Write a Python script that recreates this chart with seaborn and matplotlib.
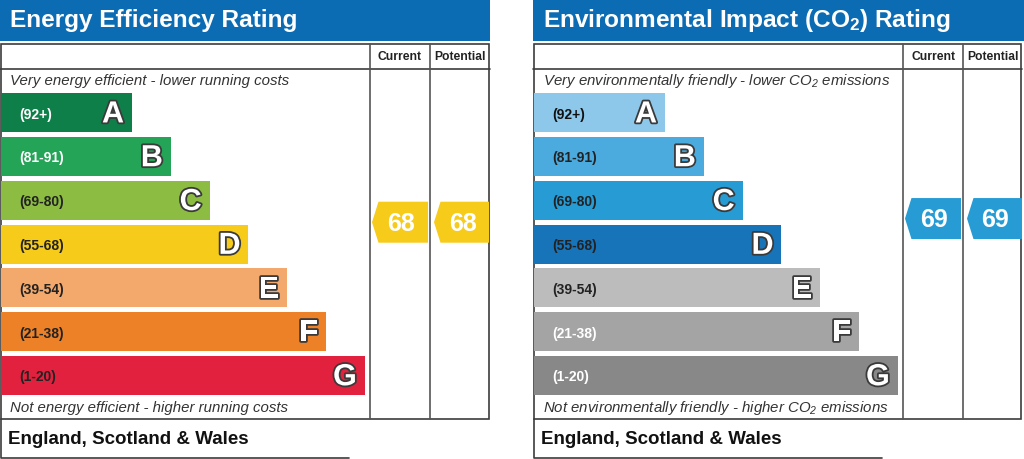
import matplotlib
matplotlib.use('Agg')
import matplotlib.pyplot as plt
import matplotlib.patheffects as pe
from matplotlib.patches import Polygon, Rectangle
import seaborn as sns

# rating bands shared by both charts
bands = ['A', 'B', 'C', 'D', 'E', 'F', 'G']
ranges = ['(92+)', '(81-91)', '(69-80)', '(55-68)', '(39-54)', '(21-38)', '(1-20)']
band_lo = [92, 81, 69, 55, 39, 21, 1]
band_hi = [100, 91, 80, 68, 54, 38, 20]

# energy efficiency chart
energy_title = 'Energy Efficiency Rating'
energy_top = 'Very energy efficient - lower running costs'
energy_bottom = 'Not energy efficient - higher running costs'
energy_colors = ['#0f7f4a', '#23a456', '#8cbd42', '#f6cb1a', '#f2a96b', '#ec8127', '#e2213e']
energy_range_colors = ['white', 'white', '#222222', '#222222', '#222222', '#222222', '#222222']
energy_current = 68
energy_potential = 68

# environmental impact chart
co2_title = r'Environmental Impact (CO$\mathregular{_2}$) Rating'
co2_top = r'Very environmentally friendly - lower CO$\mathregular{_2}$ emissions'
co2_bottom = r'Not environmentally friendly - higher CO$\mathregular{_2}$ emissions'
co2_colors = ['#8dc8ea', '#4babdf', '#269bd4', '#1874b9', '#bcbcbc', '#a4a4a4', '#888888']
co2_range_colors = ['#111111', '#222222', '#222222', '#222222', '#222222', 'white', 'white']
co2_current = 69
co2_potential = 69

footer = 'England, Scotland & Wales'
column_labels = ['Current', 'Potential']

# layout, in pixels
W, H = 1024, 460
PANEL_W = 490
BAR_TOP, BAR_BOTTOM = 91.8, 398.4
BAR_MIN, BAR_STEP = 131, 38.8
COL_X = [370, 430, 490]
BORDER = '#3c3c3c'
HEADER_BLUE = '#0b6bb3'


def band_position(value):
    # category position (row units) of a score inside the band scale
    for i, (lo, hi) in enumerate(zip(band_lo, band_hi)):
        if value >= lo:
            frac = (hi - value) / (hi - lo + 1)
            return i + frac - 0.5
    return len(bands) - 0.5


def band_color(value, colors):
    for lo, color in zip(band_lo, colors):
        if value >= lo:
            return color
    return colors[-1]


def draw_frame(ax, ox, title, top_text, bottom_text, panel_w, header_w):
    # blue title strip
    ax.add_patch(Rectangle((ox, 0), header_w, 42, color=HEADER_BLUE, lw=0))
    ax.text(ox + 10, 20.5, title, color='white', fontsize=17.6, fontweight='bold',
            va='center', ha='left')
    # table outline
    ax.add_patch(Rectangle((ox + 0.8, 44.5), panel_w - 1.6, 375.5, fill=False,
                           ec=BORDER, lw=1.2))
    ax.plot([ox, ox + panel_w], [69.5, 69.5], color=BORDER, lw=1.2)
    for cx in COL_X[:2]:
        ax.plot([ox + cx, ox + cx], [44.5, 420], color='#555555', lw=1.2)
    for label, x0, x1 in zip(column_labels, COL_X[:2], COL_X[1:]):
        ax.text(ox + (x0 + x1) / 2, 57, label, fontsize=8.7, fontweight='bold',
                color='#222222', ha='center', va='center')
    ax.text(ox + 10, 81.5, top_text, fontsize=10.8, style='italic', color='#333333',
            va='center')
    ax.text(ox + 10, 408.5, bottom_text, fontsize=10.8, style='italic', color='#333333',
            va='center')
    # footer box
    ax.plot([ox + 0.8, ox + 0.8, ox + 349], [420, 458.5, 458.5], color=BORDER, lw=1.2)
    ax.text(ox + 8, 439.5, footer, fontsize=13.5, fontweight='bold', color='#111111',
            va='center')


def draw_arrow(ax, x0, x1, value, color):
    cy = band_position(value)
    h = 20.5 / ((BAR_BOTTOM - BAR_TOP) / len(bands))
    pts = [(x0, cy), (x0 + 6.5, cy - h), (x1, cy - h), (x1, cy + h), (x0 + 6.5, cy + h)]
    ax.add_patch(Polygon(pts, closed=True, color=color, lw=0, clip_on=False))
    ax.text((x0 + x1) / 2 + 1, cy + 0.02, str(value), color='white', fontsize=18,
            fontweight='bold', ha='center', va='center')


def draw_bars(fig, ox, colors, range_colors, current, potential):
    ax = fig.add_axes([(ox + 1) / W, (H - BAR_BOTTOM) / H, (PANEL_W - 1) / W,
                       (BAR_BOTTOM - BAR_TOP) / H])
    lengths = [BAR_MIN + BAR_STEP * i for i in range(len(bands))]
    sns.barplot(x=lengths, y=bands, hue=bands, palette=colors, orient='h',
                width=0.89, saturation=1, linewidth=0, legend=False, ax=ax)
    ax.set_xlim(0, PANEL_W - 1)
    ax.set_ylim(len(bands) - 0.5, -0.5)
    ax.set_facecolor('none')
    ax.axis('off')
    outline = [pe.withStroke(linewidth=2.6, foreground='#3a3a3a')]
    for i, (band, rng, length) in enumerate(zip(bands, ranges, lengths)):
        ax.text(18, i + 0.02, rng, fontsize=10, fontweight='bold', color=range_colors[i],
                va='center', ha='left')
        ax.text(length - 8, i + 0.04, band, fontsize=22, fontweight='bold',
                color='white', va='center', ha='right', path_effects=outline)
    draw_arrow(ax, COL_X[0] + 1, COL_X[1] - 3, current, band_color(current, colors))
    draw_arrow(ax, COL_X[1] + 3, COL_X[2] - 2, potential, band_color(potential, colors))
    return ax


if __name__ == '__main__':
    sns.set_style('white')
    plt.rcParams['font.family'] = ['Liberation Sans', 'DejaVu Sans']
    plt.rcParams['mathtext.fontset'] = 'custom'
    plt.rcParams['mathtext.rm'] = 'Liberation Sans'
    plt.rcParams['mathtext.it'] = 'Liberation Sans:italic'
    plt.rcParams['mathtext.bf'] = 'Liberation Sans:bold'

    fig = plt.figure(figsize=(W / 100, H / 100), dpi=100)
    base = fig.add_axes([0, 0, 1, 1])
    base.set_xlim(0, W)
    base.set_ylim(H, 0)
    base.axis('off')

    draw_frame(base, 0, energy_title, energy_top, energy_bottom, PANEL_W, PANEL_W)
    draw_frame(base, 533, co2_title, co2_top, co2_bottom, PANEL_W - 1, W - 533)

    draw_bars(fig, 0, energy_colors, energy_range_colors, energy_current, energy_potential)
    draw_bars(fig, 533, co2_colors, co2_range_colors, co2_current, co2_potential)

    fig.savefig('out.png', dpi=100, facecolor='white')
    plt.close(fig)
